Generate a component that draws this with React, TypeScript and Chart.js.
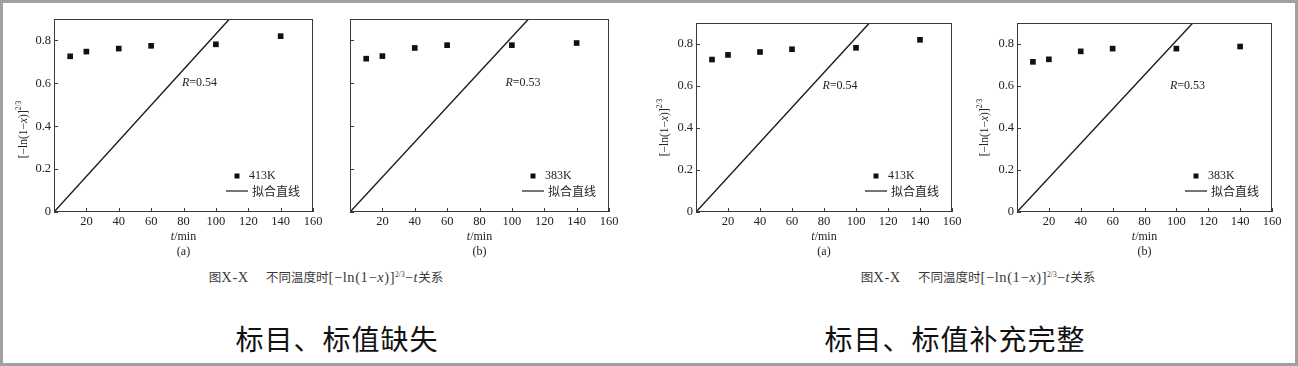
import React, { useEffect, useRef } from 'react';
import { Chart, registerables } from 'chart.js';

Chart.register(...registerables);

// ---------------- data ----------------
const TIMES_MIN = [10, 20, 40, 60, 100, 140];
const SERIES_413K = [0.726, 0.748, 0.762, 0.775, 0.782, 0.82];
const SERIES_383K = [0.715, 0.727, 0.765, 0.778, 0.778, 0.788];
const FIT_413K_X = [0, 108.4];
const FIT_413K_Y = [0, 0.9];
const FIT_383K_X = [0, 110.3];
const FIT_383K_Y = [0, 0.9];
const X_TICKS = [20, 40, 60, 80, 100, 120, 140, 160];
const Y_TICKS = [0, 0.2, 0.4, 0.6, 0.8];
const X_MIN = 0;
const X_MAX = 160;
const Y_MIN = 0;
const Y_MAX = 0.9;
const R_413K = '0.54';
const R_383K = '0.53';
const LABEL_413K = '413K';
const LABEL_383K = '383K';
const LABEL_FIT = '拟合直线';
const TITLE_LEFT = '标目、标值缺失';
const TITLE_RIGHT = '标目、标值补充完整';

// ---------------- styles ----------------
const SERIF = '"Liberation Serif", "Times New Roman", serif';
const CJK = '"Noto Sans CJK SC", sans-serif';
const INK = '#1a1a1a';

type Seg = { t: string; f: string; dy?: number };

function drawSegs(ctx: CanvasRenderingContext2D, segs: Seg[], x: number, y: number, align: 'left' | 'center' | 'right') {
  let w = 0;
  for (const s of segs) {
    ctx.font = s.f;
    w += ctx.measureText(s.t).width;
  }
  let cx = align === 'left' ? x : align === 'center' ? x - w / 2 : x - w;
  ctx.textBaseline = 'middle';
  ctx.textAlign = 'left';
  for (const s of segs) {
    ctx.font = s.f;
    ctx.fillText(s.t, cx, y + (s.dy || 0));
    cx += ctx.measureText(s.t).width;
  }
}

interface Panel {
  id: string;
  box: [number, number, number, number];
  plot: [number, number, number, number];
  xs: number[];
  ys: number[];
  fitX: number[];
  fitY: number[];
  label: string;
  r: string;
  rAt: [number, number];
  tag: string;
  showY: boolean;
  titleDx: number;
  titleDy: number;
}

const overlayPlugin = {
  id: 'overlay',
  afterDraw(chart: any) {
    const p: Panel = chart.options.plugins.overlay;
    const ctx: CanvasRenderingContext2D = chart.ctx;
    const a = chart.chartArea;
    const xs = chart.scales.x;
    const ys = chart.scales.y;
    const L = Math.round(a.left), T = Math.round(a.top), R = Math.round(a.right), B = Math.round(a.bottom);
    ctx.save();
    // frame
    ctx.strokeStyle = '#3a3a3a';
    ctx.lineWidth = 1;
    ctx.strokeRect(L + 0.5, T + 0.5, R - L - 1, B - T - 1);
    // inward ticks
    ctx.beginPath();
    for (const v of X_TICKS) {
      const px = Math.round(xs.getPixelForValue(v)) + 0.5;
      ctx.moveTo(px, B);
      ctx.lineTo(px, B - 4);
    }
    for (const v of Y_TICKS) {
      const py = Math.round(ys.getPixelForValue(v)) + 0.5;
      ctx.moveTo(L, py);
      ctx.lineTo(L + 4, py);
    }
    ctx.stroke();

    ctx.fillStyle = '#222';
    // R annotation
    drawSegs(ctx, [
      { t: 'R', f: `italic 12px ${SERIF}` },
      { t: '=' + p.r, f: `12px ${SERIF}` },
    ], xs.getPixelForValue(p.rAt[0]), ys.getPixelForValue(p.rAt[1]), 'left');

    // legend
    ctx.fillStyle = '#111';
    ctx.fillRect(R - 76 - 2.5, B - 36 - 2.5, 5, 5);
    ctx.fillStyle = '#222';
    drawSegs(ctx, [{ t: p.label, f: `12px ${SERIF}` }], R - 64, B - 36, 'left');
    ctx.strokeStyle = INK;
    ctx.lineWidth = 1.2;
    ctx.beginPath();
    ctx.moveTo(R - 87, B - 21);
    ctx.lineTo(R - 65, B - 21);
    ctx.stroke();
    drawSegs(ctx, [{ t: LABEL_FIT, f: `12px ${CJK}` }], R - 61, B - 21, 'left');

    // x title and tag
    const cx = (L + R) / 2;
    drawSegs(ctx, [
      { t: 't', f: `italic 12px ${SERIF}` },
      { t: '/min', f: `12px ${SERIF}` },
    ], cx, B + 25, 'center');
    drawSegs(ctx, [{ t: p.tag, f: `12px ${SERIF}` }], cx, B + 40, 'center');

    // y title
    if (p.showY) {
      ctx.save();
      ctx.translate(L - p.titleDx, (T + B) / 2 + p.titleDy);
      ctx.rotate(-Math.PI / 2);
      const f = `11.5px ${SERIF}`;
      drawSegs(ctx, [
        { t: '[−ln(1−', f },
        { t: 'x', f: `italic 11.5px ${SERIF}` },
        { t: ')]', f },
        { t: '2/3', f: `7.5px ${SERIF}`, dy: -5 },
      ], 0, 0, 'center');
      ctx.restore();
    }
    ctx.restore();
  },
};

const PANELS: Panel[] = [
  {
    id: 'la', box: [0, 0, 335, 262], plot: [54, 19, 313, 212],
    xs: TIMES_MIN, ys: SERIES_413K, fitX: FIT_413K_X, fitY: FIT_413K_Y,
    label: LABEL_413K, r: R_413K, rAt: [79, 0.6], tag: '(a)', showY: true, titleDx: 30, titleDy: 14,
  },
  {
    id: 'lb', box: [330, 0, 310, 262], plot: [350, 19, 609, 212],
    xs: TIMES_MIN, ys: SERIES_383K, fitX: FIT_383K_X, fitY: FIT_383K_Y,
    label: LABEL_383K, r: R_383K, rAt: [96, 0.6], tag: '(b)', showY: false, titleDx: 30, titleDy: 14,
  },
  {
    id: 'ra', box: [640, 0, 325, 262], plot: [696, 23, 952, 212],
    xs: TIMES_MIN, ys: SERIES_413K, fitX: FIT_413K_X, fitY: FIT_413K_Y,
    label: LABEL_413K, r: R_413K, rAt: [79, 0.6], tag: '(a)', showY: true, titleDx: 31, titleDy: 10,
  },
  {
    id: 'rb', box: [962, 0, 331, 262], plot: [1017, 23, 1272, 212],
    xs: TIMES_MIN, ys: SERIES_383K, fitX: FIT_383K_X, fitY: FIT_383K_Y,
    label: LABEL_383K, r: R_383K, rAt: [96, 0.6], tag: '(b)', showY: true, titleDx: 32, titleDy: 10,
  },
];

function PanelChart({ p }: { p: Panel }) {
  const ref = useRef<HTMLCanvasElement>(null);
  useEffect(() => {
    const [cx, cy, cw, ch] = p.box;
    const [pl, pt, pr, pb] = p.plot;
    const chart = new Chart(ref.current as HTMLCanvasElement, {
      type: 'scatter',
      data: {
        datasets: [
          {
            type: 'line',
            data: p.fitX.map((x, i) => ({ x, y: p.fitY[i] })),
            borderColor: INK,
            borderWidth: 1.4,
            pointRadius: 0,
            fill: false,
            tension: 0,
          } as any,
          {
            type: 'scatter',
            data: p.xs.map((x, i) => ({ x, y: p.ys[i] })),
            pointStyle: 'rect',
            pointRadius: 4,
            backgroundColor: '#111',
            borderColor: '#111',
            borderWidth: 0,
          } as any,
        ],
      },
      options: {
        responsive: false,
        animation: false,
        devicePixelRatio: 1,
        events: [],
        layout: { padding: { left: 0, top: pt - cy, right: cx + cw - pr, bottom: 0 } },
        plugins: {
          legend: { display: false },
          tooltip: { enabled: false },
          overlay: p,
        } as any,
        scales: {
          x: {
            type: 'linear',
            min: X_MIN,
            max: X_MAX,
            grid: { display: false, drawTicks: false },
            border: { display: false },
            afterBuildTicks: (s: any) => { s.ticks = X_TICKS.map((v) => ({ value: v })); },
            afterFit: (s: any) => { s.height = cy + ch - pb; s.paddingLeft = 0; s.paddingRight = 0; },
            ticks: { padding: 2, color: '#222', font: { family: SERIF, size: 12.5 }, maxRotation: 0, autoSkip: false },
          },
          y: {
            type: 'linear',
            min: Y_MIN,
            max: Y_MAX,
            grid: { display: false, drawTicks: false },
            border: { display: false },
            afterBuildTicks: (s: any) => { s.ticks = Y_TICKS.map((v) => ({ value: v })); },
            afterFit: (s: any) => { s.width = pl - cx; s.paddingTop = 0; s.paddingBottom = 0; },
            ticks: { display: p.showY, padding: 3, color: '#222', font: { family: SERIF, size: 12.5 }, autoSkip: false },
          },
        },
      } as any,
      plugins: [overlayPlugin],
    });
    return () => chart.destroy();
  }, []);
  const [x, y, w, h] = p.box;
  return (
    <canvas
      ref={ref}
      width={w}
      height={h}
      style={{ position: 'absolute', left: x, top: y, width: w, height: h }}
    />
  );
}

function Caption({ cx }: { cx: number }) {
  const latin = { fontFamily: SERIF, fontSize: 14.5, letterSpacing: 0.6 };
  return (
    <div
      style={{
        position: 'absolute', left: cx - 200, top: 268, width: 400, textAlign: 'center',
        fontFamily: SERIF, fontSize: 14, lineHeight: '18px', color: '#3a3a3a', whiteSpace: 'nowrap',
      }}
    >
      <span style={{ fontFamily: CJK, fontSize: 12.5 }}>图</span>
      <span style={latin}>X-X</span>
      <span style={{ display: 'inline-block', width: 17 }} />
      <span style={{ fontFamily: CJK, fontSize: 12.5 }}>不同温度时</span>
      <span style={latin}>[−ln(1−<i>x</i>)]</span>
      <sup style={{ fontSize: 7.5, verticalAlign: 5, lineHeight: 0 }}>2/3</sup>
      <span style={latin}>−<i>t</i></span>
      <span style={{ fontFamily: CJK, fontSize: 12.5 }}>关系</span>
    </div>
  );
}

function BigTitle({ cx, text }: { cx: number; text: string }) {
  return (
    <div
      style={{
        position: 'absolute', left: cx - 250, top: 323, width: 500, textAlign: 'center',
        fontFamily: CJK, fontSize: 28, lineHeight: '30px', letterSpacing: 1, color: '#111', whiteSpace: 'nowrap',
      }}
    >
      {text}
    </div>
  );
}

export default function App() {
  useEffect(() => {
    document.body.style.margin = '0';
  }, []);
  return (
    <div style={{ position: 'fixed', left: 0, top: 0, width: 1298, height: 366, background: '#fff', overflow: 'hidden' }}>
      {PANELS.map((p) => (
        <PanelChart key={p.id} p={p} />
      ))}
      <Caption cx={326} />
      <Caption cx={978} />
      <BigTitle cx={337} text={TITLE_LEFT} />
      <BigTitle cx={955} text={TITLE_RIGHT} />
      <div
        style={{
          position: 'absolute', left: 0, top: 0, width: 1298, height: 366, boxSizing: 'border-box',
          border: '3px solid #a0a0a0', pointerEvents: 'none',
        }}
      />
    </div>
  );
}
